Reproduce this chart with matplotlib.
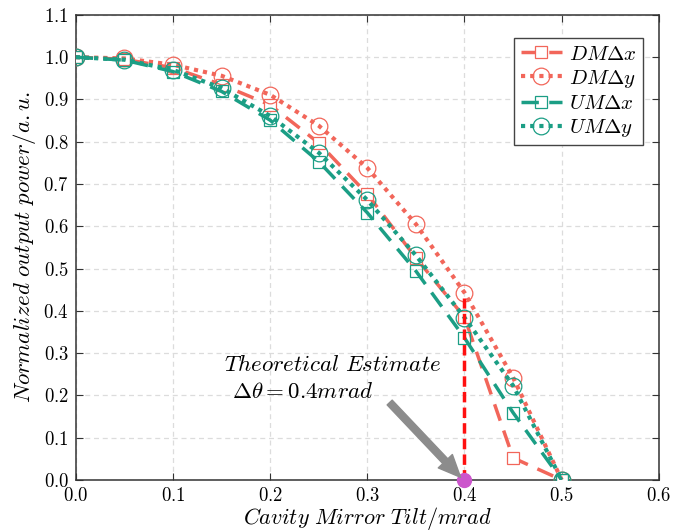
import matplotlib
matplotlib.use("Agg")
import matplotlib.pyplot as plt

plt.rcParams['mathtext.fontset'] = 'cm'
plt.rcParams['font.family'] = 'serif'
plt.rcParams['font.serif'] = ['DejaVu Serif']

# data
tilt = [0.0, 0.05, 0.1, 0.15, 0.2, 0.25, 0.3, 0.35, 0.4, 0.45, 0.5]
dm_dx = [1.0, 0.995, 0.975, 0.935, 0.887, 0.797, 0.676, 0.525, 0.385, 0.052, 0.0]
dm_dy = [1.0, 0.997, 0.982, 0.956, 0.911, 0.838, 0.738, 0.605, 0.443, 0.242, 0.0]
um_dx = [1.0, 0.993, 0.966, 0.919, 0.851, 0.753, 0.632, 0.494, 0.336, 0.159, 0.0]
um_dy = [1.0, 0.994, 0.970, 0.927, 0.861, 0.774, 0.662, 0.531, 0.384, 0.223, 0.0]
xticks = [0.0, 0.1, 0.2, 0.3, 0.4, 0.5, 0.6]
yticks = [0.0, 0.1, 0.2, 0.3, 0.4, 0.5, 0.6, 0.7, 0.8, 0.9, 1.0, 1.1]

est_x = 0.4
est_top = 0.43

red = '#f2665a'
teal = '#1b9e85'

fig = plt.figure(figsize=(6.95, 5.32), dpi=100)
ax = fig.add_axes([0.109, 0.098, 0.839, 0.874])

ax.plot(tilt, dm_dx, color=red, ls=(0, (5, 3)), lw=2.5, marker='s', ms=9,
        mfc='white', mec=red, mew=0.9, label=r'$DM\Delta x$', zorder=3)
ax.plot(tilt, dm_dy, color=red, ls=(0, (1, 1.2)), lw=3, marker='o', ms=12,
        mfc='none', mec=red, mew=0.9, label=r'$DM\Delta y$', zorder=3)
ax.plot(tilt, um_dx, color=teal, ls=(0, (5, 3)), lw=2.5, marker='s', ms=9,
        mfc='none', mec=teal, mew=0.9, label=r'$UM\Delta x$', zorder=3)
ax.plot(tilt, um_dy, color=teal, ls=(0, (1, 1.2)), lw=3, marker='o', ms=12,
        mfc='none', mec=teal, mew=0.9, label=r'$UM\Delta y$', zorder=3)

# theoretical estimate marker
ax.plot([est_x, est_x], [0, est_top], color='#ff1010', ls=(0, (3, 1.5)), lw=2.5, zorder=4)
ax.plot([est_x], [0], 'o', color='#cc55cc', ms=10, zorder=5, clip_on=False)
ax.annotate('', xy=(0.396, 0.006), xytext=(0.323, 0.183),
            arrowprops=dict(facecolor='#8c8c8c', edgecolor='#8c8c8c',
                            width=5, headwidth=14, headlength=16), zorder=5)
ax.text(0.153, 0.272, r'$Theoretical\ Estimate$', fontsize=16.5, va='center')
ax.text(0.161, 0.208, r'$\Delta\theta = 0.4mrad$', fontsize=16.5, va='center')

ax.set_xlim(0, 0.6)
ax.set_ylim(0, 1.1)
ax.set_xticks(xticks)
ax.set_yticks(yticks)
ax.set_xticklabels([f'${v:.1f}$' for v in xticks])
ax.set_yticklabels([f'${v:.1f}$' for v in yticks])
ax.tick_params(direction='in', top=True, right=True, labelsize=13.5, length=5,
               color='#333333', pad=5)
ax.grid(True, ls=(0, (4, 3)), color='#dcdcdc', lw=0.9)
ax.set_axisbelow(True)
for s in ax.spines.values():
    s.set_color('#333333')
    s.set_linewidth(1.1)

ax.set_xlabel(r'$Cavity\ Mirror\ Tilt/mrad$', fontsize=16, labelpad=0)
ax.set_ylabel(r'$Normalized\ output\ power/a.u.$', fontsize=16.5, labelpad=4)

leg = ax.legend(loc='upper right', fontsize=15, fancybox=False, framealpha=1,
                edgecolor='#444444', handlelength=2.0, handletextpad=0.3,
                borderpad=0.3, labelspacing=0.2, bbox_to_anchor=(0.99, 0.972))
leg.get_frame().set_linewidth(1.0)

fig.savefig('out.png', dpi=100)
